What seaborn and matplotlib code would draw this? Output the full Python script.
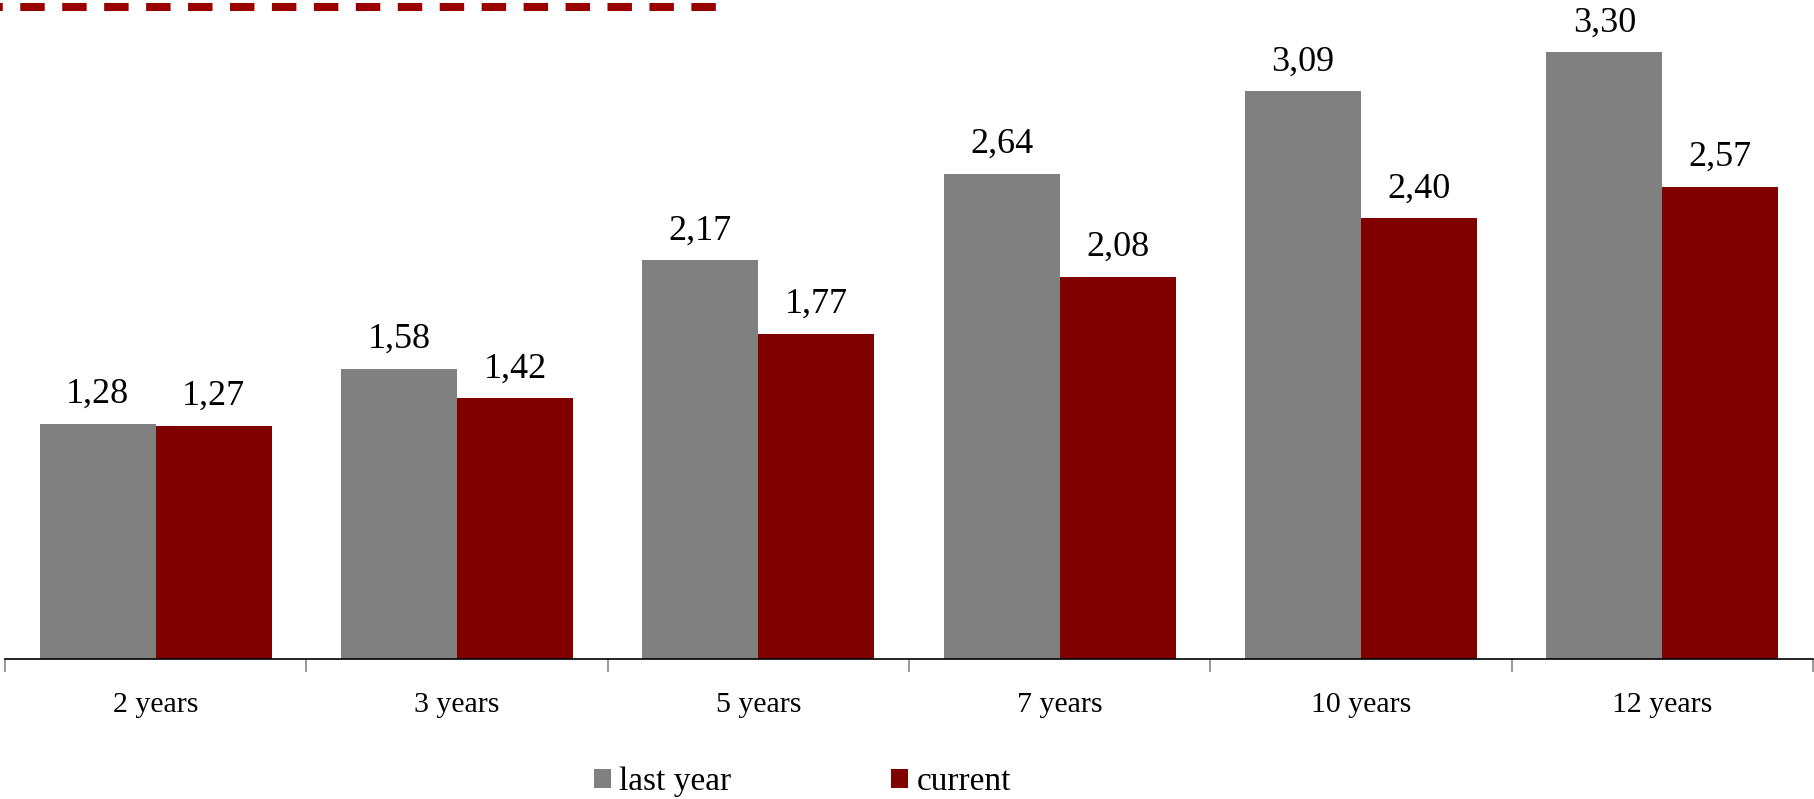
import matplotlib
matplotlib.use("Agg")
import matplotlib.pyplot as plt
import seaborn as sns
import pandas as pd
from matplotlib.lines import Line2D
from matplotlib.patches import Patch

# chart values
categories = ['2 years', '3 years', '5 years', '7 years', '10 years', '12 years']
last_year = [1.28, 1.58, 2.17, 2.64, 3.09, 3.30]
current = [1.27, 1.42, 1.77, 2.08, 2.40, 2.57]
series_names = ['last year', 'current']

df = pd.DataFrame({
    'term': categories * 2,
    'value': last_year + current,
    'series': [series_names[0]] * len(categories) + [series_names[1]] * len(categories),
})

sns.set_style('white')
plt.rcParams['font.family'] = ['Liberation Serif', 'DejaVu Serif']
plt.rcParams['lines.scale_dashes'] = False
plt.rcParams['text.color'] = 'black'

W, H = 1814, 799
fig = plt.figure(figsize=(W / 100, H / 100), dpi=100)
ax = fig.add_axes([5 / W, 1 - 659 / H, 1808 / W, 659 / H])

colors = {'last year': '#808080', 'current': '#800000'}
sns.barplot(data=df, x='term', y='value', hue='series', palette=colors,
            width=0.77, gap=0, linewidth=0, saturation=1, legend=False, ax=ax)

for cont in ax.containers:
    ax.bar_label(cont, labels=[f"{v:.2f}".replace('.', ',') for v in cont.datavalues],
                 padding=9, fontsize=26, color='black')

ax.set_xlim(-0.5, len(categories) - 0.5)
ax.set_ylim(0, 3.585)
ax.set_xlabel('')
ax.set_ylabel('')
ax.set_yticks([])
for s in ['top', 'right', 'left']:
    ax.spines[s].set_visible(False)
ax.spines['bottom'].set_color('black')
ax.spines['bottom'].set_linewidth(1.2)

ax.set_xticks(range(len(categories)))
ax.set_xticklabels(categories, fontsize=21.5, color='black')
ax.set_xticks([i - 0.5 for i in range(len(categories) + 1)], minor=True)
ax.tick_params(axis='x', which='both', bottom=True)
ax.tick_params(axis='x', which='major', length=0, pad=24)
ax.tick_params(axis='x', which='minor', length=9, width=1.2, color='#888888', direction='out')

# decorative dashed line at top left
fig.add_artist(Line2D([0, 718 / W], [1 - 7.3 / H, 1 - 7.3 / H], transform=fig.transFigure,
                      color='#990000', linewidth=5.8, linestyle=(15.6, (17.6, 12.6)),
                      solid_capstyle='butt', dash_capstyle='butt'))

handles = [Patch(facecolor=colors[n], edgecolor='none', label=n) for n in series_names]
fig.legend(handles=handles, loc='center', bbox_to_anchor=(0.4424, 1 - 782 / H),
           ncol=2, frameon=False, fontsize=24, handlelength=0.5, handleheight=0.5,
           handletextpad=0.25, columnspacing=4.8, borderpad=0, borderaxespad=0,
           labelcolor='black')

fig.savefig('out.png', dpi=100)
